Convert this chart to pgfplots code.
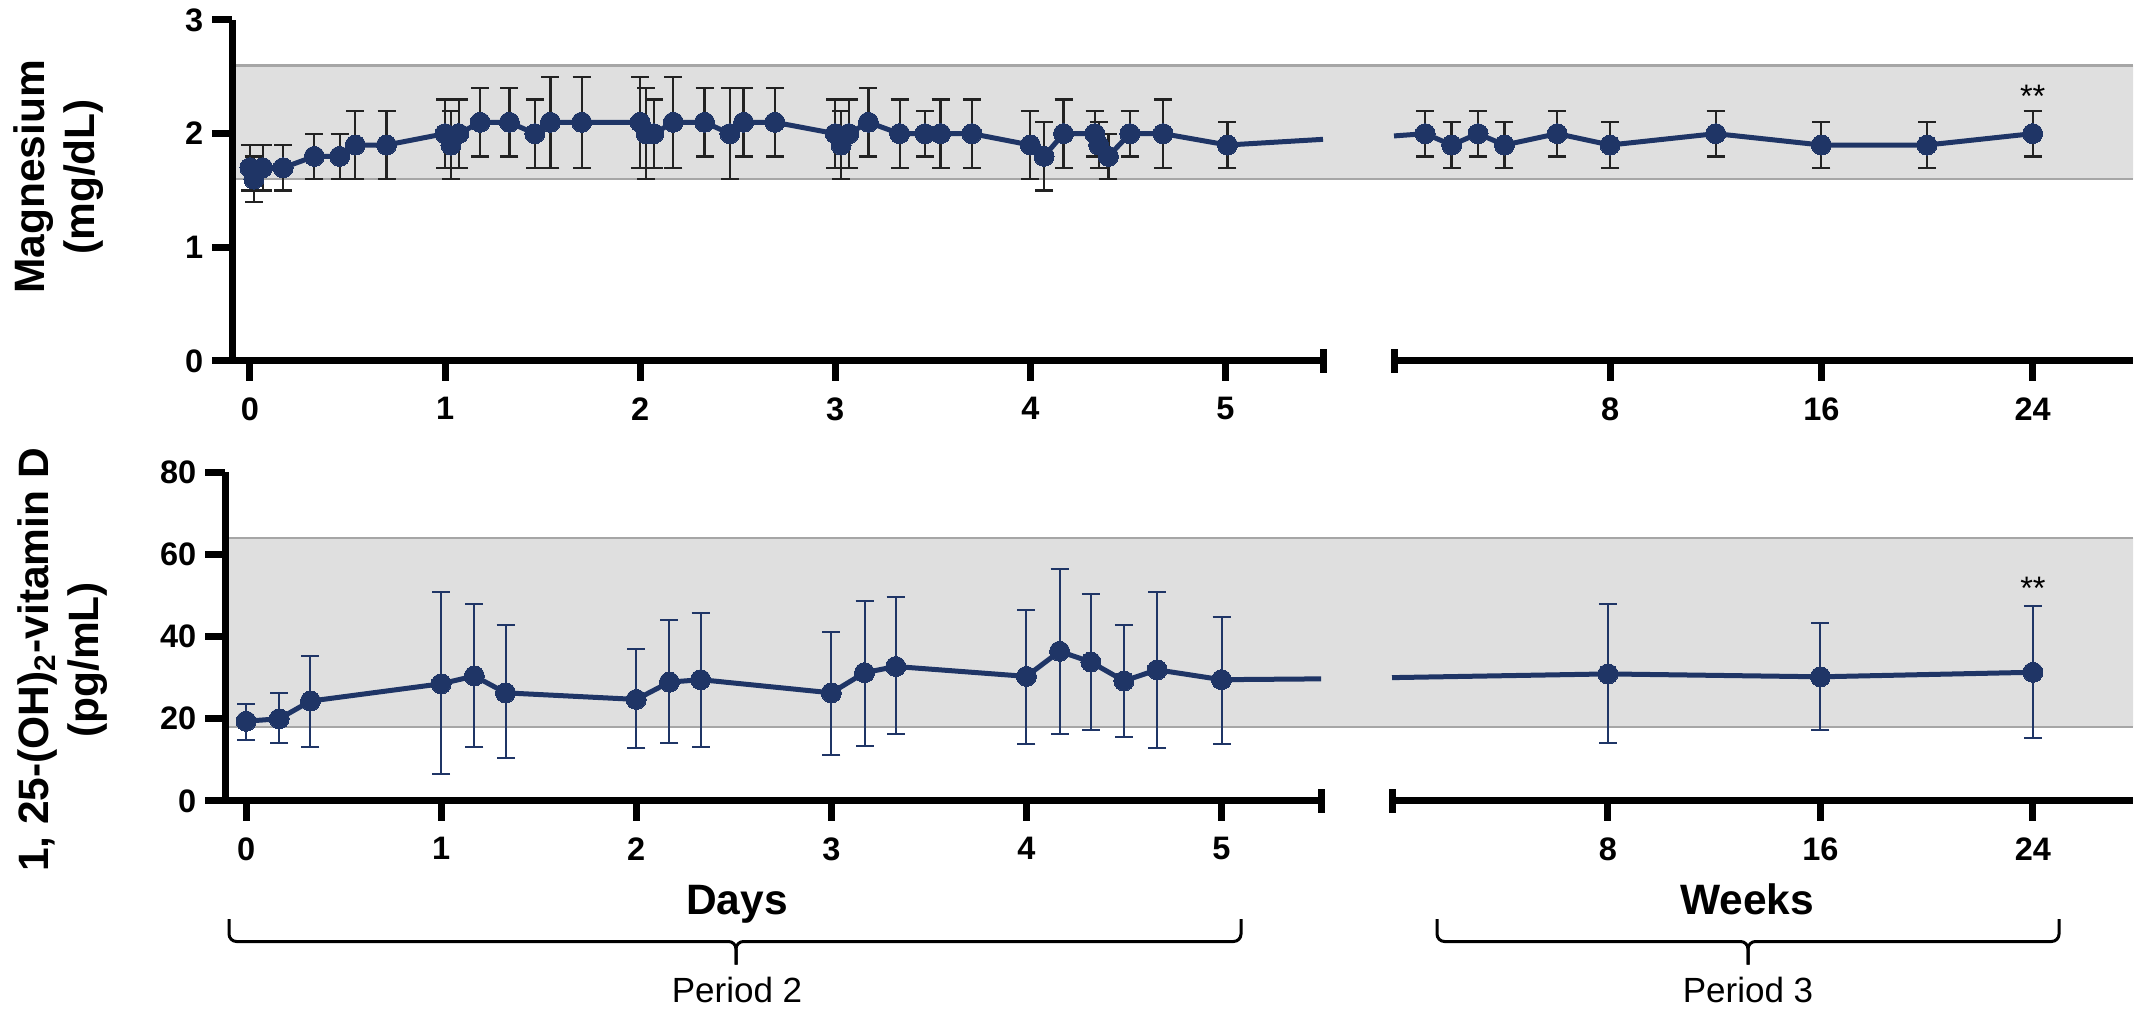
\documentclass[border=0pt]{standalone}
\usepackage{pgfplots}
\pgfplotsset{compat=1.18}
\usepackage{pgfplotstable}
\usepackage{fontspec}
\setmainfont{Liberation Sans}
\definecolor{navy}{HTML}{1F3566}
\definecolor{bandfill}{HTML}{DFDFDF}
\definecolor{bandedge}{HTML}{A6A6A6}
\definecolor{errgray}{HTML}{222222}

% Magnesium, days (x, mean, +err, -err)
\pgfplotstableread{
x y ep em
0.00 1.7 0.2 0.2
0.02 1.6 0.2 0.2
0.065 1.7 0.2 0.2
0.17 1.7 0.2 0.2
0.33 1.8 0.2 0.2
0.46 1.8 0.2 0.2
0.54 1.9 0.3 0.3
0.70 1.9 0.3 0.3
1.00 2.0 0.3 0.3
1.03 1.9 0.3 0.3
1.07 2.0 0.3 0.3
1.18 2.1 0.3 0.3
1.33 2.1 0.3 0.3
1.46 2.0 0.3 0.3
1.54 2.1 0.4 0.4
1.70 2.1 0.4 0.4
2.00 2.1 0.4 0.4
2.03 2.0 0.4 0.4
2.07 2.0 0.3 0.3
2.17 2.1 0.4 0.4
2.33 2.1 0.3 0.3
2.46 2.0 0.4 0.4
2.53 2.1 0.3 0.3
2.69 2.1 0.3 0.3
3.00 2.0 0.3 0.3
3.03 1.9 0.3 0.3
3.07 2.0 0.3 0.3
3.17 2.1 0.3 0.3
3.33 2.0 0.3 0.3
3.46 2.0 0.2 0.2
3.54 2.0 0.3 0.3
3.70 2.0 0.3 0.3
4.00 1.9 0.3 0.3
4.07 1.8 0.3 0.3
4.17 2.0 0.3 0.3
4.33 2.0 0.2 0.2
4.35 1.9 0.2 0.2
4.40 1.8 0.2 0.2
4.51 2.0 0.2 0.2
4.68 2.0 0.3 0.3
5.01 1.9 0.2 0.2
}\mgdays

% Magnesium, weeks
\pgfplotstableread{
x y ep em
1 2.0 0.2 0.2
2 1.9 0.2 0.2
3 2.0 0.2 0.2
4 1.9 0.2 0.2
6 2.0 0.2 0.2
8 1.9 0.2 0.2
12 2.0 0.2 0.2
16 1.9 0.2 0.2
20 1.9 0.2 0.2
24 2.0 0.2 0.2
}\mgweeks

% 1,25-(OH)2-vitamin D, days
\pgfplotstableread{
x y ep em
0.00 19.4 4.3 4.5
0.17 20.0 6.3 5.8
0.33 24.3 10.9 11.1
1.00 28.5 22.4 22.0
1.17 30.4 17.5 17.2
1.33 26.3 16.4 15.8
2.00 24.7 12.3 11.9
2.17 28.9 15.1 14.9
2.33 29.5 16.2 16.3
3.00 26.3 14.8 15.0
3.17 31.2 17.5 17.9
3.33 32.7 16.8 16.5
4.00 30.3 16.2 16.5
4.17 36.4 20.0 20.2
4.33 33.8 16.5 16.6
4.50 29.2 13.5 13.6
4.67 31.9 19.0 19.1
5.00 29.5 15.3 15.7
}\vddays

% 1,25-(OH)2-vitamin D, weeks
\pgfplotstableread{
x y ep em
8 30.9 17.1 16.9
16 30.2 13.2 12.9
24 31.3 16.2 16.0
}\vdweeks

\pgfplotsset{
  brk/.style={
    scale only axis, clip=false,
    axis line style={line width=2.8pt, black},
    tick style={line width=2.8pt, black},
    major tick length=8pt, tick align=outside,
    ticklabel style={font=\fontsize{13}{13}\selectfont\bfseries},
    /pgf/number format/assume math mode=true,
    xticklabel style={yshift=-3pt},
  },
  bandax/.style={scale only axis, axis lines=none, xmin=0, xmax=1, clip=false},
  ser/.style={navy, line width=2pt, mark=*, mark size=4pt,
    mark options={fill=navy, draw=navy, line width=0pt}},
  errtop/.style={error bars/.cd, y dir=both, y explicit,
    error bar style={line width=0.9pt, errgray},
    error mark options={rotate=90, line width=0.9pt, mark size=3.6pt, errgray}},
  errbot/.style={error bars/.cd, y dir=both, y explicit,
    error bar style={line width=0.8pt, navy},
    error mark options={rotate=90, line width=0.8pt, mark size=3.6pt, navy}},
}

\begin{document}
\begin{tikzpicture}
\useasboundingbox (0,0) rectangle (855.6pt,404pt);

% ---------------- top panel: band ----------------
\begin{axis}[bandax, at={(92.8pt,259.6pt)}, anchor=south west,
  width=760.4pt, height=136.4pt, ymin=0, ymax=3]
\addplot[fill=bandfill, draw=none] coordinates {(0,1.6) (1,1.6) (1,2.6) (0,2.6) (0,1.6)};
\addplot[bandedge, line width=1pt] coordinates {(0,2.6) (1,2.6)};
\addplot[bandedge, line width=1pt] coordinates {(0,1.6) (1,1.6)};
\end{axis}

% top panel: days
\begin{axis}[brk, at={(92.8pt,259.6pt)}, anchor=south west,
  width=436.4pt, height=136.4pt,
  xmin=-0.092, xmax=5.5, ymin=0, ymax=3,
  axis x line*=bottom, axis y line*=left,
  xtick={0,1,2,3,4,5}, ytick={0,1,2,3}]
\addplot[navy, line width=2pt] coordinates {(5.01,1.9) (5.5,1.95)};
\addplot[ser, errtop] table[x=x, y=y, y error plus=ep, y error minus=em] {\mgdays};
\draw[line width=2.8pt] (rel axis cs:1,0) ++(0pt,-4.8pt) -- ++(0pt,9.6pt);
\end{axis}

% top panel: weeks
\begin{axis}[brk, at={(557.6pt,259.6pt)}, anchor=south west,
  width=295.6pt, height=136.4pt,
  xmin=-0.18, xmax=27.8, ymin=0, ymax=3,
  axis x line*=bottom, axis y line=none,
  xtick={8,16,24}]
\addplot[navy, line width=2pt] coordinates {(-0.18,1.98) (1,2.0)};
\addplot[ser, errtop] table[x=x, y=y, y error plus=ep, y error minus=em] {\mgweeks};
\draw[line width=2.8pt] (rel axis cs:0,0) ++(0pt,-4.8pt) -- ++(0pt,9.6pt);
\node[font=\fontsize{13}{13}\selectfont, yshift=-2.7pt] at (axis cs:24,2.39) {**};
\end{axis}

% ---------------- bottom panel: band ----------------
\begin{axis}[bandax, at={(90pt,83.6pt)}, anchor=south west,
  width=763.2pt, height=131.6pt, ymin=0, ymax=80]
\addplot[fill=bandfill, draw=none] coordinates {(0,18) (1,18) (1,64) (0,64) (0,18)};
\addplot[bandedge, line width=1pt] coordinates {(0,64) (1,64)};
\addplot[bandedge, line width=1pt] coordinates {(0,18) (1,18)};
\end{axis}

% bottom panel: days
\begin{axis}[brk, at={(90pt,83.6pt)}, anchor=south west,
  width=438.4pt, height=131.6pt,
  xmin=-0.108, xmax=5.51, ymin=0, ymax=80,
  axis x line*=bottom, axis y line*=left,
  xtick={0,1,2,3,4,5}, ytick={0,20,40,60,80}]
\addplot[navy, line width=2pt] coordinates {(5.0,29.5) (5.51,29.7)};
\addplot[ser, errbot] table[x=x, y=y, y error plus=ep, y error minus=em] {\vddays};
\draw[line width=2.8pt] (rel axis cs:1,0) ++(0pt,-4.8pt) -- ++(0pt,9.6pt);
\end{axis}

% bottom panel: weeks
\begin{axis}[brk, at={(556.8pt,83.6pt)}, anchor=south west,
  width=296.4pt, height=131.6pt,
  xmin=-0.13, xmax=27.77, ymin=0, ymax=80,
  axis x line*=bottom, axis y line=none,
  xtick={8,16,24}]
\addplot[navy, line width=2pt] coordinates {(-0.13,30.0) (8,30.9)};
\addplot[ser, errbot] table[x=x, y=y, y error plus=ep, y error minus=em] {\vdweeks};
\draw[line width=2.8pt] (rel axis cs:0,0) ++(0pt,-4.8pt) -- ++(0pt,9.6pt);
\node[font=\fontsize{13}{13}\selectfont, yshift=-2.7pt] at (axis cs:24,53.4) {**};
\end{axis}

% ---------------- labels ----------------
\node[rotate=90, align=center, font=\fontsize{17}{20}\selectfont\bfseries]
  at (23.6pt,333.2pt) {Magnesium\\(mg/dL)};
\node[rotate=90, align=center, font=\fontsize{17}{20}\selectfont\bfseries]
  at (25.2pt,140pt) {1, 25-(OH)\textsubscript{2}-vitamin D\\(pg/mL)};

\node[anchor=base, font=\fontsize{17}{17}\selectfont\bfseries] at (294.8pt,38pt) {Days};
\node[anchor=base, font=\fontsize{17}{17}\selectfont\bfseries] at (698.8pt,38.4pt) {Weeks};

% braces
\draw[line width=1.2pt, rounded corners=3pt] (91.6pt,36.4pt) -- (91.6pt,27.4pt) -- (294.4pt,27.4pt) -- (294.4pt,18.2pt);
\draw[line width=1.2pt, rounded corners=3pt] (496.4pt,36.4pt) -- (496.4pt,27.4pt) -- (294.4pt,27.4pt) -- (294.4pt,18.2pt);
\draw[line width=1.2pt, rounded corners=3pt] (574.8pt,36.4pt) -- (574.8pt,27.4pt) -- (699.2pt,27.4pt) -- (699.2pt,18.2pt);
\draw[line width=1.2pt, rounded corners=3pt] (823.6pt,36.4pt) -- (823.6pt,27.4pt) -- (699.2pt,27.4pt) -- (699.2pt,18.2pt);

\node[anchor=base, font=\fontsize{14}{14}\selectfont] at (294.8pt,3.2pt) {Period 2};
\node[anchor=base, font=\fontsize{14}{14}\selectfont] at (699.2pt,3.2pt) {Period 3};
\end{tikzpicture}
\end{document}
